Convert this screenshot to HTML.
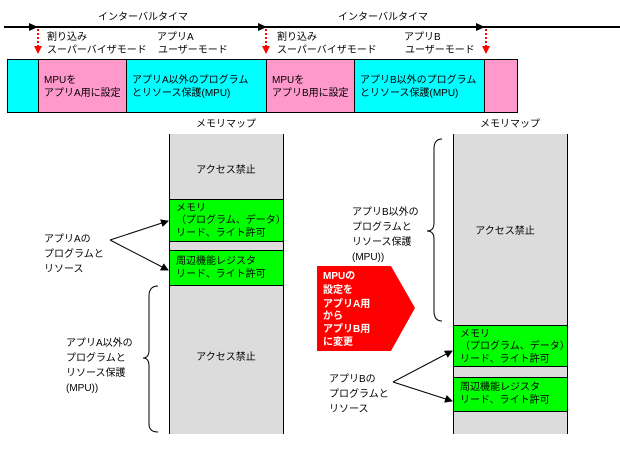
<!DOCTYPE html>
<html><head><meta charset="utf-8"><style>
body{margin:0;background:#fff;}
svg text{font-family:"Liberation Sans","Noto Sans CJK JP",sans-serif;font-size:10px;fill:#000;}
</style></head><body>
<svg width="620" height="445" viewBox="0 0 620 445" xmlns="http://www.w3.org/2000/svg">
<defs>
<marker id="ab" markerWidth="8" markerHeight="8" refX="7" refY="4" orient="auto" markerUnits="userSpaceOnUse"><path d="M0,0 L8,4 L0,8 z" fill="#000"/></marker>
<marker id="ar" markerWidth="8" markerHeight="8" refX="4" refY="7" orient="0" markerUnits="userSpaceOnUse"><path d="M0,0 L8,0 L4,8 z" fill="#f00"/></marker>
</defs>
<line x1="4" y1="27" x2="620" y2="27" stroke="#000" stroke-width="2"/>
<path d="M29,23 L38,27 L29,31z M258,23 L267,27 L258,31z M476,23 L485,27 L476,31z" fill="#000"/>
<text x="143" y="20" text-anchor="middle">インターバルタイマ</text>
<text x="383" y="20" text-anchor="middle">インターバルタイマ</text>
<g stroke="#f00" stroke-width="2" stroke-dasharray="2,2">
<line x1="38" y1="29" x2="38" y2="53" marker-end="url(#ar)"/>
<line x1="266" y1="29" x2="266" y2="53" marker-end="url(#ar)"/>
<line x1="486" y1="29" x2="486" y2="53" marker-end="url(#ar)"/>
</g>
<text x="47" y="40">割り込み</text><text x="47" y="53">スーパーバイザモード</text>
<text x="157" y="40">アプリA</text><text x="158" y="53">ユーザーモード</text>
<text x="277" y="40">割り込み</text><text x="277" y="53">スーパーバイザモード</text>
<text x="404" y="40">アプリB</text><text x="405" y="53">ユーザーモード</text>
<g stroke="#000" stroke-width="1">
<rect x="7.5" y="59.5" width="31" height="53" fill="#00ffff"/>
<rect x="38.5" y="59.5" width="88" height="53" fill="#ff99cc"/>
<rect x="126.5" y="59.5" width="140" height="53" fill="#00ffff"/>
<rect x="266.5" y="59.5" width="88" height="53" fill="#ff99cc"/>
<rect x="354.5" y="59.5" width="130" height="53" fill="#00ffff"/>
<rect x="484.5" y="59.5" width="33" height="53" fill="#ff99cc"/>
</g>
<text x="44" y="83">MPUを</text><text x="44" y="96">アプリA用に設定</text>
<text x="132" y="83">アプリA以外のプログラム</text><text x="132" y="96">とリソース保護(MPU)</text>
<text x="272" y="83">MPUを</text><text x="272" y="96">アプリB用に設定</text>
<text x="360" y="83">アプリB以外のプログラム</text><text x="360" y="96">とリソース保護(MPU)</text>
<text x="226" y="127" text-anchor="middle">メモリマップ</text>
<rect x="169" y="134" width="114" height="300" fill="#dcdcdc"/>
<line x1="169.5" y1="134" x2="169.5" y2="434" stroke="#000"/>
<line x1="283.5" y1="134" x2="283.5" y2="434" stroke="#000"/>
<rect x="169.5" y="199.5" width="114" height="42" fill="#00ff00" stroke="#000"/>
<rect x="169.5" y="250.5" width="114" height="35" fill="#00ff00" stroke="#000"/>
<text x="226" y="173" text-anchor="middle">アクセス禁止</text>
<text x="226" y="360" text-anchor="middle">アクセス禁止</text>
<text x="176" y="211">メモリ</text><text x="176" y="223">（プログラム、データ）</text><text x="176" y="236">リード、ライト許可</text>
<text x="176" y="264">周辺機能レジスタ</text><text x="176" y="277">リード、ライト許可</text>
<text x="44" y="242">アプリAの</text><text x="44" y="257">プログラムと</text><text x="44" y="272">リソース</text>
<line x1="110" y1="240" x2="168" y2="221" stroke="#000" marker-end="url(#ab)"/>
<line x1="110" y1="240" x2="168" y2="270" stroke="#000" marker-end="url(#ab)"/>
<path d="M158,286 Q149,286 149,296 L149,350 Q149,358 143,358 Q149,358 149,366 L149,424 Q149,432 158,432" fill="none" stroke="#000"/>
<text x="66" y="346">アプリA以外の</text><text x="66" y="361">プログラムと</text><text x="66" y="376">リソース保護</text><text x="66" y="391">(MPU))</text>
<text x="510" y="127" text-anchor="middle">メモリマップ</text>
<rect x="453" y="134" width="114" height="300" fill="#dcdcdc"/>
<line x1="453.5" y1="134" x2="453.5" y2="434" stroke="#000"/>
<line x1="567.5" y1="134" x2="567.5" y2="434" stroke="#000"/>
<rect x="453.5" y="325.5" width="114" height="41" fill="#00ff00" stroke="#000"/>
<rect x="453.5" y="377.5" width="114" height="34" fill="#00ff00" stroke="#000"/>
<text x="505" y="234" text-anchor="middle">アクセス禁止</text>
<text x="460" y="337">メモリ</text><text x="460" y="349">（プログラム、データ）</text><text x="460" y="362">リード、ライト許可</text>
<text x="460" y="390">周辺機能レジスタ</text><text x="460" y="403">リード、ライト許可</text>
<text x="329" y="382">アプリBの</text><text x="329" y="397">プログラムと</text><text x="329" y="412">リソース</text>
<line x1="393" y1="382" x2="452" y2="351" stroke="#000" marker-end="url(#ab)"/>
<line x1="393" y1="382" x2="452" y2="401" stroke="#000" marker-end="url(#ab)"/>
<path d="M442,139 Q434,139 434,149 L434,223 Q434,231 427,231 Q434,231 434,239 L434,311 Q434,321 442,321" fill="none" stroke="#000"/>
<text x="352" y="215">アプリB以外の</text><text x="352" y="230">プログラムと</text><text x="352" y="245">リソース保護</text><text x="352" y="260">(MPU))</text>
<path d="M317,266 L391,266 L415,308 L391,351 L317,351z" fill="#ff0000"/>
<text x="323" y="279" style="fill:#fff;font-weight:bold">MPUの</text>
<text x="323" y="293" style="fill:#fff;font-weight:bold">設定を</text>
<text x="323" y="307" style="fill:#fff;font-weight:bold">アプリA用</text>
<text x="323" y="319" style="fill:#fff;font-weight:bold">から</text>
<text x="323" y="332" style="fill:#fff;font-weight:bold">アプリB用</text>
<text x="323" y="345" style="fill:#fff;font-weight:bold">に変更</text>
</svg>
</body></html>
